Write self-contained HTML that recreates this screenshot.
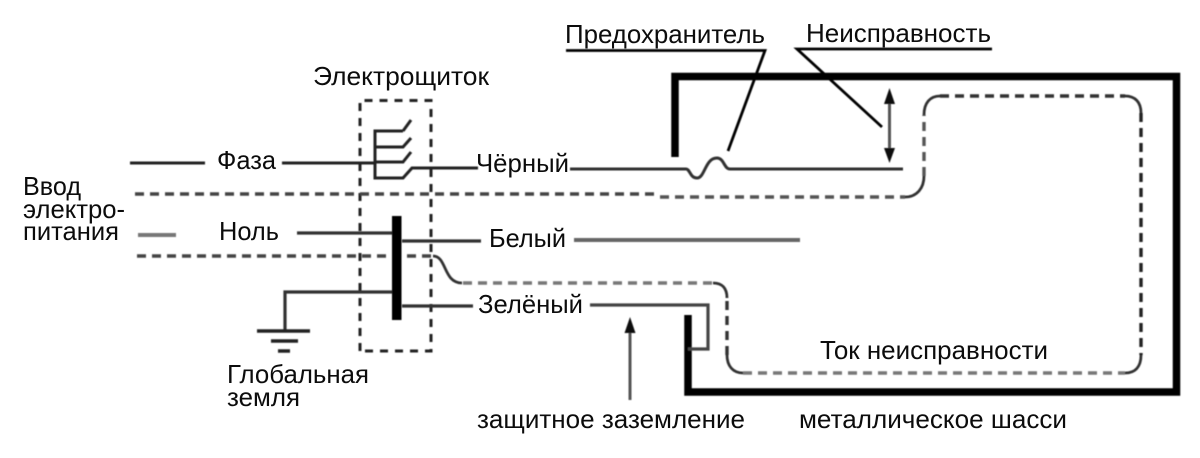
<!DOCTYPE html>
<html><head><meta charset="utf-8"><style>
html,body{margin:0;padding:0;background:#fff;width:1200px;height:458px;overflow:hidden}
svg{display:block}
text{font-family:"Liberation Sans","Noto Sans CJK SC",sans-serif;font-size:26px;fill:#0c0c0c}
</style></head><body>
<svg width="1200" height="458" viewBox="0 0 1200 458" xmlns="http://www.w3.org/2000/svg">
<defs><filter id="b" x="-5%" y="-5%" width="110%" height="110%"><feGaussianBlur stdDeviation="0.45"/></filter></defs>
<g filter="url(#b)" fill="none" stroke-linejoin="miter">
<!-- chassis -->
<path d="M675 157V76.500H1176.500V392H688V315" stroke="#050505" stroke-width="7.500"/>
<!-- panel box -->
<path d="M360 351V100.500H431V351H360" stroke="#222" stroke-width="3" stroke-dasharray="8 7"/>
<!-- black lines -->
<g stroke="#222" stroke-width="3">
<path d="M130 163H205M282 163H375"/>
<path d="M403 131H375V178H403L412 168H478"/>
<path d="M375 147H403L411 138M375 162H403L411 152M403 131L411 120"/>
<path d="M570 169H686C690 169 690 178 697 178C705 178 705 158 717 158C724 158 724 169 730 169H903" stroke="#333"/>
<path d="M297 233H392M402 241H481M285 331V292H392M402 306H473" stroke="#333" stroke-width="3.200"/>
<path d="M574 240H800" stroke="#666" stroke-width="4"/>
<path d="M590 305H708V349H688" stroke="#444" stroke-width="3.200"/>
<path d="M257 331H310" stroke-width="3.500"/><path d="M271 341H298" stroke-width="3.500"/><path d="M278 351H290" stroke-width="3.500"/>
</g>
<path d="M138 235H176" stroke="#777" stroke-width="4"/>
<!-- fault current dashes -->
<g stroke-width="3.400" stroke-dasharray="9 6">
<path d="M135 194H660" stroke="#444"/>
<path d="M660 197H905" stroke="#555"/>
<path d="M924 176V115" stroke="#555"/>
<path d="M940 96H1125" stroke="#333"/>
<path d="M1141 113V355" stroke="#222"/>
<path d="M743 373H1125" stroke="#777"/>
<path d="M727 355V298" stroke="#333"/>
<path d="M463 283H713" stroke="#777"/>
<path d="M137 256H433" stroke="#444"/>
</g>
<!-- solid rounded corners -->
<g stroke="#333" stroke-width="2.800">
<path d="M905 197C917 197 924 188 924 176"/>
<path d="M924 115C924 103 930 96 940 96"/>
<path d="M1125 96C1135 96 1141 102 1141 113"/>
<path d="M1141 355C1141 367 1135 373 1125 373"/>
<path d="M743 373C733 373 727 366 727 355"/>
<path d="M727 298C727 288 722 283 713 283"/>
<path d="M433 256C447 256 443 283 462 283"/>
</g>
<!-- bus bar -->
<rect x="392" y="216" width="9.500" height="104" fill="#050505"/>
<!-- leaders -->
<path d="M566 50.500H765L728 151M992 49H797L882 127" stroke="#050505" stroke-width="2.800"/>
<!-- arrows -->
<path d="M889.500 100V150M630 330V400" stroke="#555" stroke-width="3"/>
<path d="M889.500 88L895 104H884ZM889.500 163L884 148H895Z" fill="#111"/>
<path d="M630 317L635.500 333H624.500Z" fill="#111"/>
</g>
<text x="565" y="43" textLength="200" lengthAdjust="spacingAndGlyphs">Предохранитель</text>
<text x="806" y="42" textLength="185" lengthAdjust="spacingAndGlyphs">Неисправность</text>
<text x="313" y="85" textLength="176" lengthAdjust="spacingAndGlyphs">Электрощиток</text>
<text x="217" y="169" textLength="59" lengthAdjust="spacingAndGlyphs">Фаза</text>
<text x="476" y="172" textLength="93" lengthAdjust="spacingAndGlyphs">Чёрный</text>
<text x="23" y="195" textLength="58" lengthAdjust="spacingAndGlyphs">Ввод</text>
<text x="23" y="218" textLength="102" lengthAdjust="spacingAndGlyphs">электро-</text>
<text x="23" y="240" textLength="96" lengthAdjust="spacingAndGlyphs">питания</text>
<text x="219" y="240" textLength="60" lengthAdjust="spacingAndGlyphs">Ноль</text>
<text x="489" y="247" textLength="77" lengthAdjust="spacingAndGlyphs">Белый</text>
<text x="478" y="313" textLength="105" lengthAdjust="spacingAndGlyphs">Зелёный</text>
<text x="227" y="383" textLength="142" lengthAdjust="spacingAndGlyphs">Глобальная</text>
<text x="227" y="406" textLength="73" lengthAdjust="spacingAndGlyphs">земля</text>
<text x="820" y="359" textLength="228" lengthAdjust="spacingAndGlyphs">Ток неисправности</text>
<text x="477" y="428" textLength="268" lengthAdjust="spacingAndGlyphs">защитное заземление</text>
<text x="799" y="428" textLength="268" lengthAdjust="spacingAndGlyphs">металлическое шасси</text>
</svg>
</body></html>
